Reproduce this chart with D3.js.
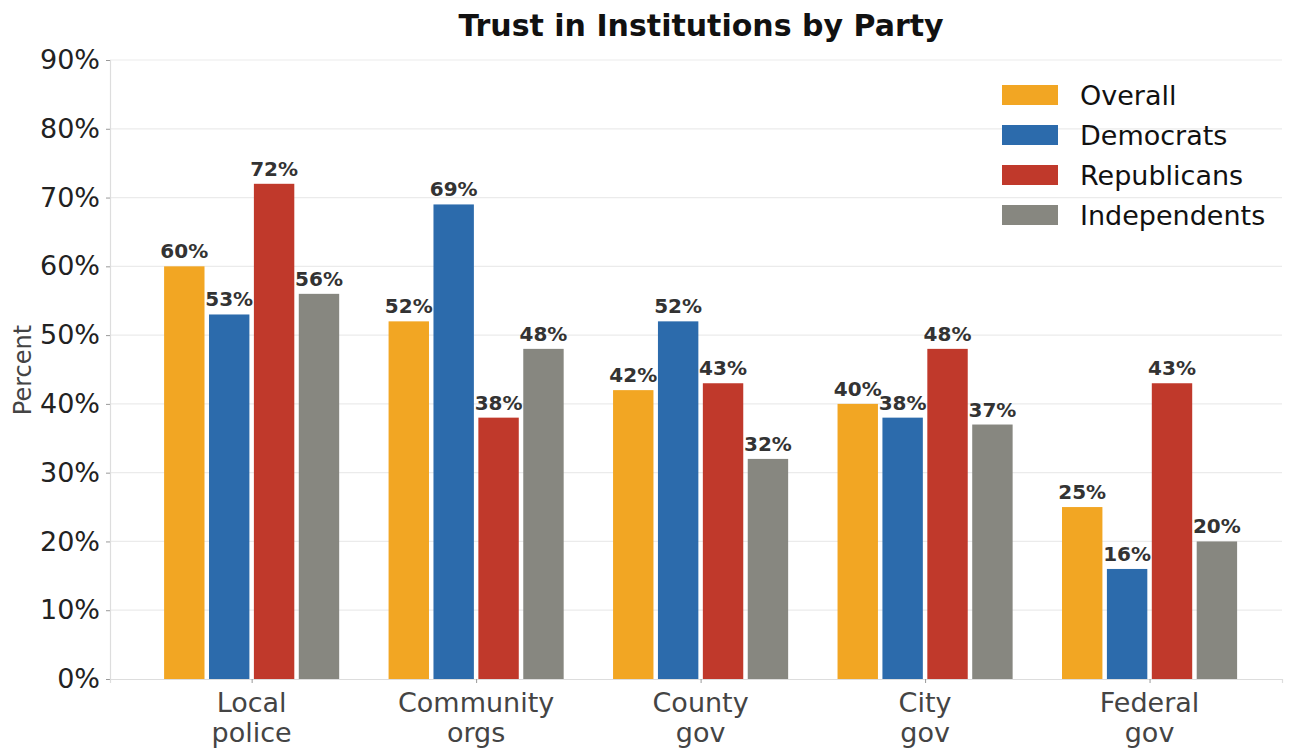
<!DOCTYPE html>
<html>
<head>
<meta charset="utf-8">
<script src="https://cdn.jsdelivr.net/npm/d3@7"></script>
<style>
  body { margin: 0; background: #fff; }
  svg { font-family: "DejaVu Sans", sans-serif; }
</style>
</head>
<body>
<script>
const width = 1294;
const height = 750;

const categories = [["Local", "police"], ["Community", "orgs"], ["County", "gov"], ["City", "gov"], ["Federal", "gov"]];
const seriesNames = ["Overall", "Democrats", "Republicans", "Independents"];
const overall = [60, 52, 42, 40, 25];
const democrats = [53, 69, 52, 38, 16];
const republicans = [72, 38, 43, 48, 43];
const independents = [56, 48, 32, 37, 20];
const yTicks = [0, 10, 20, 30, 40, 50, 60, 70, 80, 90];
const colors = ["#F2A623", "#2C6BAC", "#C0392B", "#878780"];

const series = [overall, democrats, republicans, independents];

const svg = d3.select("body").append("svg")
  .attr("width", width)
  .attr("height", height);

const x = d3.scaleLinear().domain([-0.631, 4.59]).range([110, 1282]);
const y = d3.scaleLinear().domain([0, 90]).range([679, 60]);

const barW = 0.18;
const step = 0.2;

// grid
svg.append("g")
  .selectAll("line")
  .data(yTicks.slice(1))
  .enter().append("line")
  .attr("x1", x(-0.631)).attr("x2", x(4.59))
  .attr("y1", d => y(d)).attr("y2", d => y(d))
  .attr("stroke", "#ebebeb")
  .attr("stroke-width", 1.2);

// bars
series.forEach((vals, j) => {
  svg.append("g")
    .selectAll("rect")
    .data(vals)
    .enter().append("rect")
    .attr("x", (d, i) => x(i + (j - 1.5) * step - barW / 2))
    .attr("width", x(barW) - x(0))
    .attr("y", d => y(d))
    .attr("height", d => y(0) - y(d))
    .attr("fill", colors[j]);

  svg.append("g")
    .selectAll("text")
    .data(vals)
    .enter().append("text")
    .attr("x", (d, i) => x(i + (j - 1.5) * step))
    .attr("y", d => y(d) - 8)
    .attr("text-anchor", "middle")
    .attr("font-size", 20)
    .attr("font-weight", "bold")
    .attr("fill", "#333")
    .text(d => d + "%");
});

// y axis
const yAxis = d3.axisLeft(y).tickValues(yTicks).tickFormat(d => d + "%").tickSize(4).tickPadding(6);
const yg = svg.append("g")
  .attr("transform", "translate(110,0)")
  .call(yAxis);
yg.select(".domain").attr("stroke", "#ddd").attr("stroke-width", 1.2);
yg.selectAll(".tick line").attr("stroke", "#999");
yg.selectAll(".tick text").attr("font-size", 27).attr("fill", "#222")
  .attr("font-family", "DejaVu Sans");

// x axis
const xAxis = d3.axisBottom(x).tickValues(d3.range(categories.length)).tickFormat("").tickSize(4);
const xg = svg.append("g")
  .attr("transform", "translate(0,679)")
  .call(xAxis);
xg.select(".domain").attr("stroke", "#ddd").attr("stroke-width", 1.2);
xg.selectAll(".tick line").attr("stroke", "#999");

svg.append("g")
  .selectAll("text")
  .data(categories)
  .enter().append("text")
  .attr("x", (d, i) => x(i))
  .attr("y", 712)
  .attr("text-anchor", "middle")
  .attr("font-size", 27)
  .attr("fill", "#444")
  .each(function(d) {
    d3.select(this).selectAll("tspan")
      .data(d)
      .enter().append("tspan")
      .attr("x", d3.select(this).attr("x"))
      .attr("dy", (t, k) => k === 0 ? 0 : 30)
      .text(t => t);
  });

// y label
svg.append("text")
  .attr("transform", "translate(31,370) rotate(-90)")
  .attr("text-anchor", "middle")
  .attr("font-size", 24)
  .attr("fill", "#444")
  .text("Percent");

// title
svg.append("text")
  .attr("x", 701)
  .attr("y", 36)
  .attr("text-anchor", "middle")
  .attr("font-size", 30)
  .attr("font-weight", "bold")
  .attr("fill", "#111")
  .text("Trust in Institutions by Party");

// legend
const legend = svg.append("g").attr("transform", "translate(1002,85)");
seriesNames.forEach((name, j) => {
  legend.append("rect")
    .attr("x", 0).attr("y", j * 40)
    .attr("width", 56).attr("height", 20)
    .attr("fill", colors[j]);
  legend.append("text")
    .attr("x", 78).attr("y", j * 40 + 20)
    .attr("font-size", 27)
    .attr("fill", "#111")
    .text(name);
});
</script>
</body>
</html>
